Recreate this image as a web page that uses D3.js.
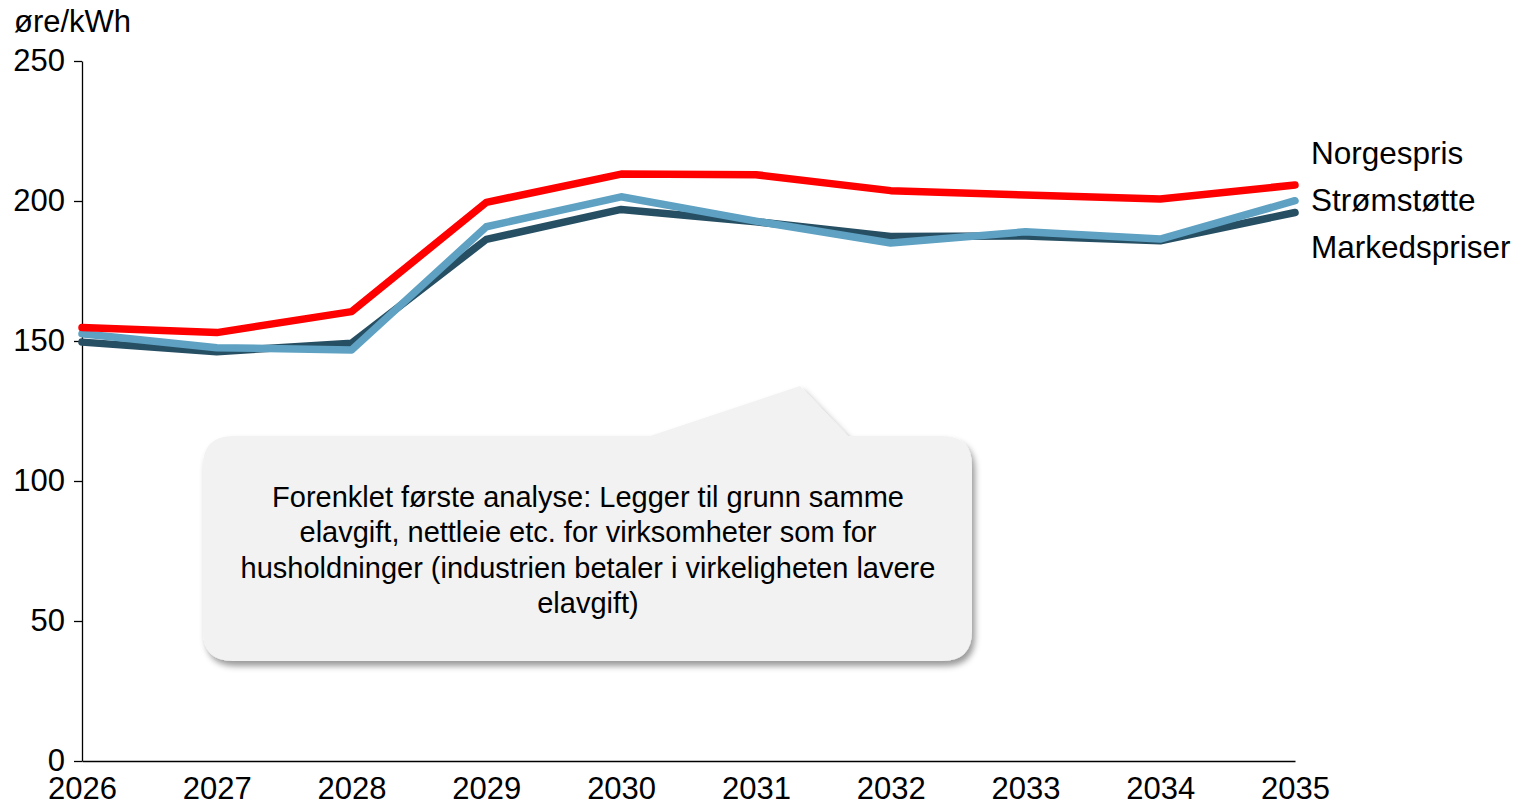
<!DOCTYPE html>
<html>
<head>
<meta charset="utf-8">
<script src="https://cdn.jsdelivr.net/npm/d3@7"></script>
<style>
  body { margin: 0; background: #fff; }
  svg { display: block; font-family: "Liberation Sans", Arial, sans-serif; }
  .axis text { font-size: 31px; fill: #000; }
  .axis path, .axis line { stroke: #000; stroke-width: 1.3; }
</style>
</head>
<body>
<svg id="main-svg" width="1519" height="804"></svg>
<script>
// data (øre/kWh)
var years = [2026, 2027, 2028, 2029, 2030, 2031, 2032, 2033, 2034, 2035];
var markedspriser = [149.6, 146.2, 149.2, 186.3, 197.0, 192.6, 187.3, 187.5, 185.8, 195.9];
var stromstotte   = [152.6, 147.6, 146.8, 190.8, 201.5, 192.8, 185.0, 189.0, 186.4, 200.1];
var norgespris    = [154.8, 153.0, 160.5, 199.5, 209.6, 209.4, 203.7, 202.1, 200.7, 205.7];
var yTicks = [0, 50, 100, 150, 200, 250];
var seriesNames = ["Markedspriser", "Strømstøtte", "Norgespris"];
var seriesColors = ["#274f63", "#5ea1c2", "#ff0000"];
var noteLines = [
    "Forenklet første analyse: Legger til grunn samme",
    "elavgift, nettleie etc. for virksomheter som for",
    "husholdninger (industrien betaler i virkeligheten lavere",
    "elavgift)"
];

var svg = d3.select('#main-svg');

var x = d3.scaleLinear().domain([2026, 2035]).range([82, 1295]);
var y = d3.scaleLinear().domain([0, 250]).range([761, 61]);

// callout box (drawn first so lines never get covered)
var defs = svg.append('defs');
var f = defs.append('filter').attr('id', 'shadow')
    .attr('x', '-10%').attr('y', '-20%').attr('width', '120%').attr('height', '140%');
f.append('feDropShadow').attr('dx', 3).attr('dy', 5).attr('stdDeviation', 3)
    .attr('flood-color', '#000').attr('flood-opacity', 0.4);

var bx0 = 203, bx1 = 972, by0 = 436, by1 = 661, r = 30;
var p = d3.path();
p.moveTo(bx0 + r, by0);
p.lineTo(650, by0);
p.lineTo(800, 386);
p.lineTo(848, by0);
p.lineTo(bx1 - r, by0);
p.quadraticCurveTo(bx1, by0, bx1, by0 + r);
p.lineTo(bx1, by1 - r);
p.quadraticCurveTo(bx1, by1, bx1 - r, by1);
p.lineTo(bx0 + r, by1);
p.quadraticCurveTo(bx0, by1, bx0, by1 - r);
p.lineTo(bx0, by0 + r);
p.quadraticCurveTo(bx0, by0, bx0 + r, by0);
p.closePath();

svg.append('path')
    .attr('d', p.toString())
    .attr('fill', '#f2f2f2')
    .attr('filter', 'url(#shadow)');

svg.append('g').selectAll('text')
    .data(noteLines).enter().append('text')
    .attr('x', 588)
    .attr('y', function(d, i) { return 497 + i*35.3; })
    .attr('dy', '0.35em')
    .attr('text-anchor', 'middle')
    .style('font-size', '29px')
    .text(function(d) { return d; });

// axes
svg.append('g').attr('class', 'axis')
    .attr('transform', 'translate(82,0)')
    .call(d3.axisLeft(y).tickValues(yTicks).tickSize(8).tickSizeOuter(0).tickPadding(9));

svg.append('g').attr('class', 'axis')
    .attr('transform', 'translate(0,761)')
    .call(d3.axisBottom(x).tickValues(years).tickFormat(d3.format('d'))
        .tickSize(0).tickPadding(16));

svg.append('text')
    .attr('x', 14).attr('y', 32)
    .style('font-size', '31px')
    .text('øre/kWh');

// lines
var allSeries = [markedspriser, stromstotte, norgespris];
var line = d3.line()
    .x(function(d, i) { return x(years[i]); })
    .y(function(d) { return y(d); });

svg.append('g').selectAll('path')
    .data(allSeries).enter().append('path')
    .attr('d', line)
    .attr('fill', 'none')
    .attr('stroke', function(d, i) { return seriesColors[i]; })
    .attr('stroke-width', 7.5)
    .attr('stroke-linecap', 'round')
    .attr('stroke-linejoin', 'round');

// series labels on the right
var labelY = [247, 200, 153];
svg.append('g').selectAll('text')
    .data(seriesNames).enter().append('text')
    .attr('x', 1311)
    .attr('y', function(d, i) { return labelY[i]; })
    .attr('dy', '0.35em')
    .style('font-size', '31.5px')
    .text(function(d) { return d; });
</script>
</body>
</html>
